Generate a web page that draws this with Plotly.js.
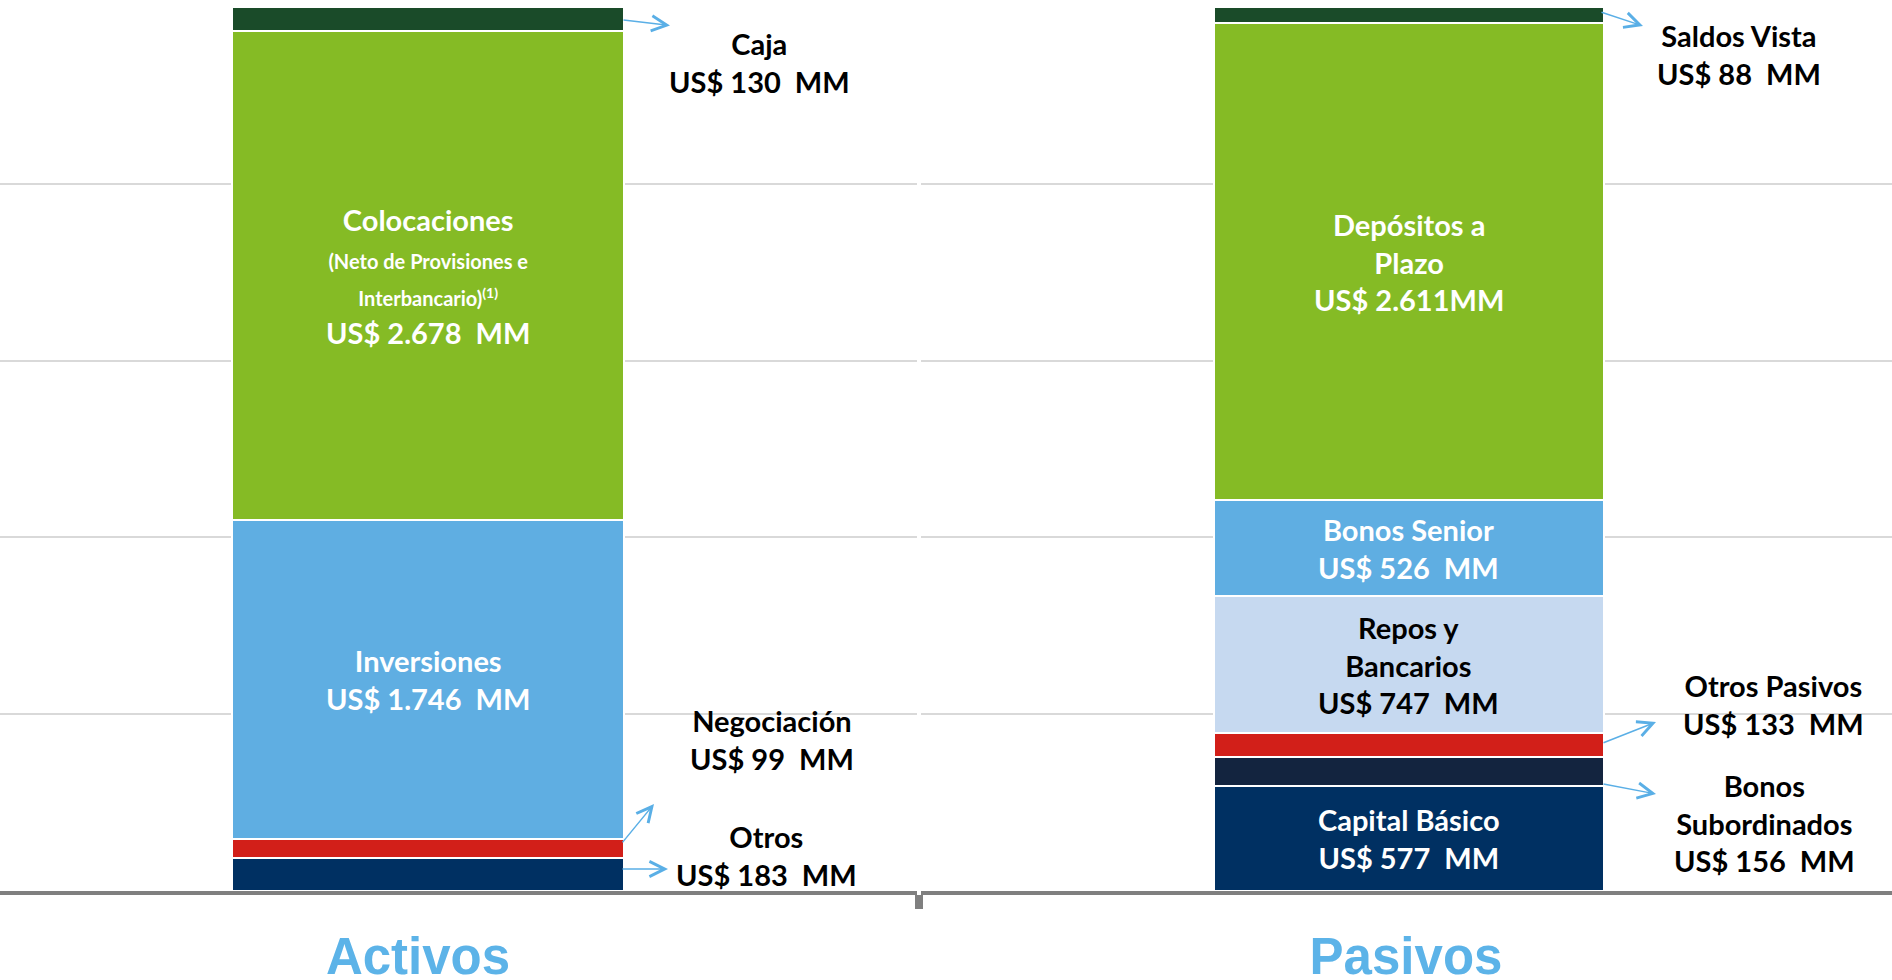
<!DOCTYPE html>
<html>
<head>
<meta charset="utf-8">
<script src="https://cdn.plot.ly/plotly-3.0.1.min.js"></script>
<style>
  html, body { margin: 0; padding: 0; background: #ffffff; }
  #chart { width: 1892px; height: 980px; }
</style>
</head>
<body>
<div id="chart"></div>
<script>
// ---------- DATA ----------
const activosCategory = ['Activos'];
const activosNames = ['Otros', 'Negociación', 'Inversiones', 'Colocaciones', 'Caja'];
const activosValues = [183, 99, 1746, 2678, 130];
const activosValueLabels = ['US$ 183  MM', 'US$ 99  MM', 'US$ 1.746  MM', 'US$ 2.678  MM', 'US$ 130  MM'];
const activosNameLines = ['Otros', 'Negociación', 'Inversiones', 'Colocaciones', 'Caja'];
const colocacionesNote = ['(Neto de Provisiones e', 'Interbancario)', '(1)'];

const pasivosCategory = ['Pasivos'];
const pasivosNames = ['Capital Básico', 'Bonos Subordinados', 'Otros Pasivos', 'Repos y Bancarios', 'Bonos Senior', 'Depósitos a Plazo', 'Saldos Vista'];
const pasivosValues = [577, 156, 133, 747, 526, 2611, 88];
const pasivosValueLabels = ['US$ 577  MM', 'US$ 156  MM', 'US$ 133  MM', 'US$ 747  MM', 'US$ 526  MM', 'US$ 2.611MM', 'US$ 88  MM'];
const pasivosNameLines = ['Capital Básico', 'Bonos<br>Subordinados', 'Otros Pasivos', 'Repos y<br>Bancarios', 'Bonos Senior', 'Depósitos a<br>Plazo', 'Saldos Vista'];

// ---------- STYLES ----------
const activosColors = ['#003062', '#d21f19', '#5faee2', '#85bb25', '#1a4b29'];
const pasivosColors = ['#003062', '#13243f', '#d21f19', '#c6d9f0', '#5faee2', '#85bb25', '#1a4b29'];
const W = 1892, H = 980;
const M = { l: 0, r: 0, t: 7, b: 89 };
const labelFont = { family: 'Lato, "Open Sans", sans-serif', size: 29, weight: 700 };
const arrowColor = '#5aafe6';

const nb = s => s.replace(/  /g, '\u00a0 ');
// pixel -> paper (paper = plotting area inside the margins)
const px = v => (v - M.l) / (W - M.l - M.r);
const py = v => (H - M.b - v) / (H - M.t - M.b);

function mids(vals) {
  const tot = vals.reduce((a, b) => a + b, 0);
  let c = 0;
  return vals.map(v => { const m = (c + v / 2) / tot * 100; c += v; return m; });
}

// ---------- TRACES ----------
const traces = [];
activosNames.forEach((n, i) => traces.push({
  type: 'bar', name: n, x: activosCategory, y: [activosValues[i]],
  xaxis: 'x', yaxis: 'y', width: 0.4,
  marker: { color: activosColors[i], line: { color: '#ffffff', width: 2 } },
  hoverinfo: 'skip', showlegend: false
}));
pasivosNames.forEach((n, i) => traces.push({
  type: 'bar', name: n, x: pasivosCategory, y: [pasivosValues[i]],
  xaxis: 'x2', yaxis: 'y2', width: 0.4,
  marker: { color: pasivosColors[i], line: { color: '#ffffff', width: 2 } },
  hoverinfo: 'skip', showlegend: false
}));

// ---------- ANNOTATIONS ----------
const ann = [];
const aMid = mids(activosValues);
const pMid = mids(pasivosValues);

// inside labels (activos)
ann.push({
  xref: 'x', yref: 'y', x: 0, y: aMid[3], showarrow: false,
  text: activosNameLines[3] + '<br><span style="font-size:20px">' + colocacionesNote[0] +
        '</span><br><span style="font-size:20px">' + colocacionesNote[1] + '<sup>' + colocacionesNote[2] + '</sup></span><br>' + nb(activosValueLabels[3]),
  font: Object.assign({}, labelFont, { color: '#ffffff' })
});
ann.push({
  xref: 'x', yref: 'y', x: 0, y: aMid[2], showarrow: false,
  text: activosNameLines[2] + '<br>' + nb(activosValueLabels[2]),
  font: Object.assign({}, labelFont, { color: '#ffffff' })
});
// inside labels (pasivos)
[[5, '#ffffff'], [4, '#ffffff'], [3, '#000000'], [0, '#ffffff']].forEach(([i, col]) => ann.push({
  xref: 'x2', yref: 'y2', x: 0, y: pMid[i], showarrow: false,
  text: pasivosNameLines[i] + '<br>' + nb(pasivosValueLabels[i]),
  font: Object.assign({}, labelFont, { color: col })
}));

// outside labels
const outside = [
  [activosNameLines[4] + '<br>' + nb(activosValueLabels[4]), 759, 62],
  [activosNameLines[1] + '<br>' + nb(activosValueLabels[1]), 772, 739],
  [activosNameLines[0] + '<br>' + nb(activosValueLabels[0]), 766, 855],
  [pasivosNameLines[6] + '<br>' + nb(pasivosValueLabels[6]), 1739, 54],
  [pasivosNameLines[2] + '<br>' + nb(pasivosValueLabels[2]), 1773, 704],
  [pasivosNameLines[1] + '<br>' + nb(pasivosValueLabels[1]), 1764, 823]
];
outside.forEach(([t, x, y]) => ann.push({
  xref: 'paper', yref: 'paper', x: px(x), y: py(y), showarrow: false,
  xanchor: 'center', yanchor: 'middle', text: t,
  font: Object.assign({}, labelFont, { color: '#000000' })
}));

// arrows: [headX, headY, tailX, tailY]
const arrows = [
  [670, 25.5, 623, 20],
  [654, 804, 622, 843],
  [668, 869, 622, 869],
  [1643, 26, 1601, 12],
  [1656, 722, 1603, 743],
  [1656, 794, 1603, 784]
];
arrows.forEach(([hx, hy, tx, ty]) => ann.push({
  xref: 'paper', yref: 'paper', x: px(hx), y: py(hy),
  ax: tx - hx, ay: ty - hy, axref: 'pixel', ayref: 'pixel',
  text: ' ', showarrow: true, arrowhead: 5, arrowsize: 2, arrowwidth: 1.5,
  arrowcolor: arrowColor, standoff: 0, startstandoff: 0, borderpad: 0,
  font: { size: 1 }
}));

// ---------- LAYOUT ----------
const catFont = { family: '"Liberation Sans", Arial, sans-serif', size: 51, color: '#5cb3e8', weight: 700 };
const xBase = {
  type: 'category', showgrid: false, zeroline: false,
  showline: true, linecolor: '#7f7f7f', linewidth: 4,
  ticks: 'outside', tickson: 'boundaries', ticklen: 14, tickwidth: 4, tickcolor: '#7f7f7f',
  tickfont: catFont, ticklabelstandoff: 18, fixedrange: true
};
const yBase = {
  range: [0, 100], tick0: 0, dtick: 20, showgrid: true, gridcolor: '#d9d9d9', gridwidth: 2,
  showticklabels: false, ticks: '', zeroline: false, showline: false, fixedrange: true
};

const layout = {
  width: W, height: H,
  margin: { l: M.l, r: M.r, t: M.t, b: M.b, pad: 0 },
  paper_bgcolor: '#ffffff', plot_bgcolor: 'rgba(0,0,0,0)',
  barmode: 'stack', barnorm: 'percent', showlegend: false,
  xaxis: Object.assign({}, xBase, { domain: [0, 917 / W], range: [-0.4376, 0.5], anchor: 'y', ticklabelshift: -10 }),
  yaxis: Object.assign({}, yBase, { domain: [0, 1], anchor: 'x' }),
  xaxis2: Object.assign({}, xBase, { domain: [921 / W, 1], range: [-0.5, 0.4949], anchor: 'y2', ticklabelshift: -3 }),
  yaxis2: Object.assign({}, yBase, { domain: [0, 1], anchor: 'x2' }),
  annotations: ann
};

Plotly.newPlot('chart', traces, layout, { displayModeBar: false, staticPlot: true });
</script>
</body>
</html>
